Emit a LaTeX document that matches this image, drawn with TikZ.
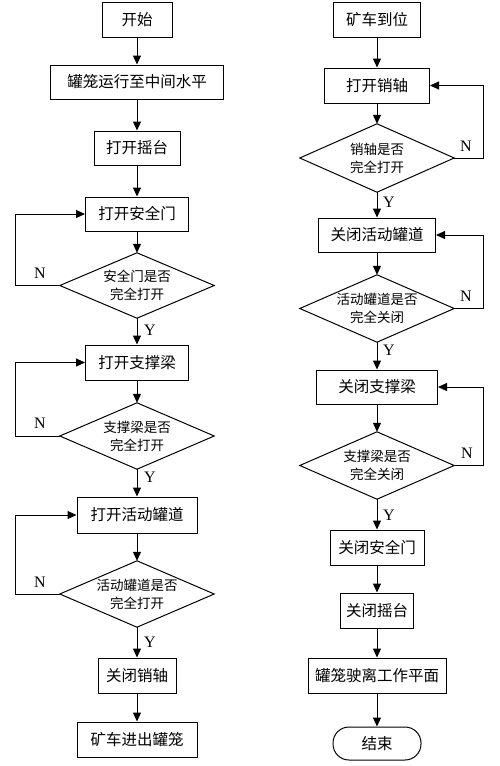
\documentclass[tikz,border=0pt]{standalone}
\usepackage{fontspec}
\usetikzlibrary{arrows.meta}
\newfontfamily\cjk{Noto Sans CJK SC}
\setmainfont{Liberation Serif}
\begin{document}
\begin{tikzpicture}[x=1pt,y=-1pt,
  box/.style={draw,line width=1pt,rectangle,inner sep=0pt,font=\cjk\fontsize{15.5}{18}\selectfont},
  dia/.style={rectangle,inner sep=0pt,align=center,minimum width=154pt,font=\cjk\fontsize{13.5}{18}\selectfont},
  arr/.style={line width=1pt,-{Triangle[length=9pt,width=8pt]}},
  lbl/.style={font=\fontsize{16}{18}\selectfont,inner sep=0pt}]
\useasboundingbox (0,0) rectangle (500,766);
% left column
\node[box,minimum width=70pt,minimum height=35pt] (s1) at (137,19.5) {开始};
\node[box,minimum width=173pt,minimum height=34pt] (s2) at (137,82) {罐笼运行至中间水平};
\node[box,minimum width=86pt,minimum height=34pt] (s3) at (137,148) {打开摇台};
\node[box,minimum width=103pt,minimum height=34pt] (s4) at (137,214) {打开安全门};
\node[dia,minimum height=65pt] (d1) at (137,285.5) {安全门是否\\完全打开};
\node[box,minimum width=103pt,minimum height=35pt] (s5) at (137,362.5) {打开支撑梁};
\node[dia,minimum height=66pt] (d2) at (137,436) {支撑梁是否\\完全打开};
\node[box,minimum width=120pt,minimum height=36pt] (s6) at (137,515) {打开活动罐道};
\node[dia,minimum height=66pt] (d3) at (137,594) {活动罐道是否\\完全打开};
\node[box,minimum width=78pt,minimum height=35pt] (s7) at (137,675.5) {关闭销轴};
\node[box,minimum width=120pt,minimum height=35pt] (s8) at (137,739.5) {矿车进出罐笼};
\foreach \d in {d1,d2,d3}{
  \draw[line width=1pt] (\d.north) -- (\d.east) -- (\d.south) -- (\d.west) -- cycle;}
\draw[arr] (s1) -- (s2);
\draw[arr] (s2) -- (s3);
\draw[arr] (s3) -- (s4);
\draw[arr] (s4) -- (d1);
\draw[arr] (d1) -- (s5);
\draw[arr] (s5) -- (d2);
\draw[arr] (d2) -- (s6);
\draw[arr] (s6) -- (d3);
\draw[arr] (d3) -- (s7);
\draw[arr] (s7) -- (s8);
\draw[arr] (d1.west) -- ++(-44,0) |- (s4.west);
\draw[arr] (d2.west) -- ++(-44,0) |- (s5.west);
\draw[arr] (d3.west) -- ++(-44,0) |- (s6.west);
\node[lbl] (n1) at (40,273) {N};
\node[lbl] (n2) at (40,423) {N};
\node[lbl] (n3) at (40,582) {N};
\node[lbl] (y1) at (150,330) {Y};
\node[lbl] (y2) at (150,477) {Y};
\node[lbl] (y3) at (150,642) {Y};
% right column
\node[box,minimum width=87pt,minimum height=35pt] (r1) at (377,19.5) {矿车到位};
\node[box,minimum width=105pt,minimum height=35pt] (r2) at (377,85.5) {打开销轴};
\node[dia,minimum height=68pt] (e1) at (377,158) {销轴是否\\完全打开};
\node[box,minimum width=117pt,minimum height=34pt] (r3) at (377,235) {关闭活动罐道};
\node[dia,minimum height=67pt] (e2) at (377,308.5) {活动罐道是否\\完全关闭};
\node[box,minimum width=121pt,minimum height=34pt] (r4) at (377,387) {关闭支撑梁};
\node[dia,minimum height=67pt] (e3) at (377,465.5) {支撑梁是否\\完全关闭};
\node[box,minimum width=94pt,minimum height=35pt] (r5) at (377,547.5) {关闭安全门};
\node[box,minimum width=73pt,minimum height=35pt] (r6) at (377,610.5) {关闭摇台};
\node[box,minimum width=138pt,minimum height=35pt] (r7) at (377,675.5) {罐笼驶离工作平面};
\node[box,minimum width=88pt,minimum height=33pt,rounded corners=16pt] (r8) at (377,743.5) {结束};
\foreach \d in {e1,e2,e3}{
  \draw[line width=1pt] (\d.north) -- (\d.east) -- (\d.south) -- (\d.west) -- cycle;}
\draw[arr] (r1) -- (r2);
\draw[arr] (r2) -- (e1);
\draw[arr] (e1) -- (r3);
\draw[arr] (r3) -- (e2);
\draw[arr] (e2) -- (r4);
\draw[arr] (r4) -- (e3);
\draw[arr] (e3) -- (r5);
\draw[arr] (r5) -- (r6);
\draw[arr] (r6) -- (r7);
\draw[arr] (r7) -- (r8);
\draw[arr] (e1.east) -- ++(29,0) |- (r2.east);
\draw[arr] (e2.east) -- ++(29,0) |- (r3.east);
\draw[arr] (e3.east) -- ++(29,0) |- (r4.east);
\node[lbl] (n4) at (466,146) {N};
\node[lbl] (n5) at (466,296) {N};
\node[lbl] (n6) at (467,453) {N};
\node[lbl] (y4) at (389,202) {Y};
\node[lbl] (y5) at (389,350) {Y};
\node[lbl] (y6) at (389,515) {Y};
\end{tikzpicture}
\end{document}
